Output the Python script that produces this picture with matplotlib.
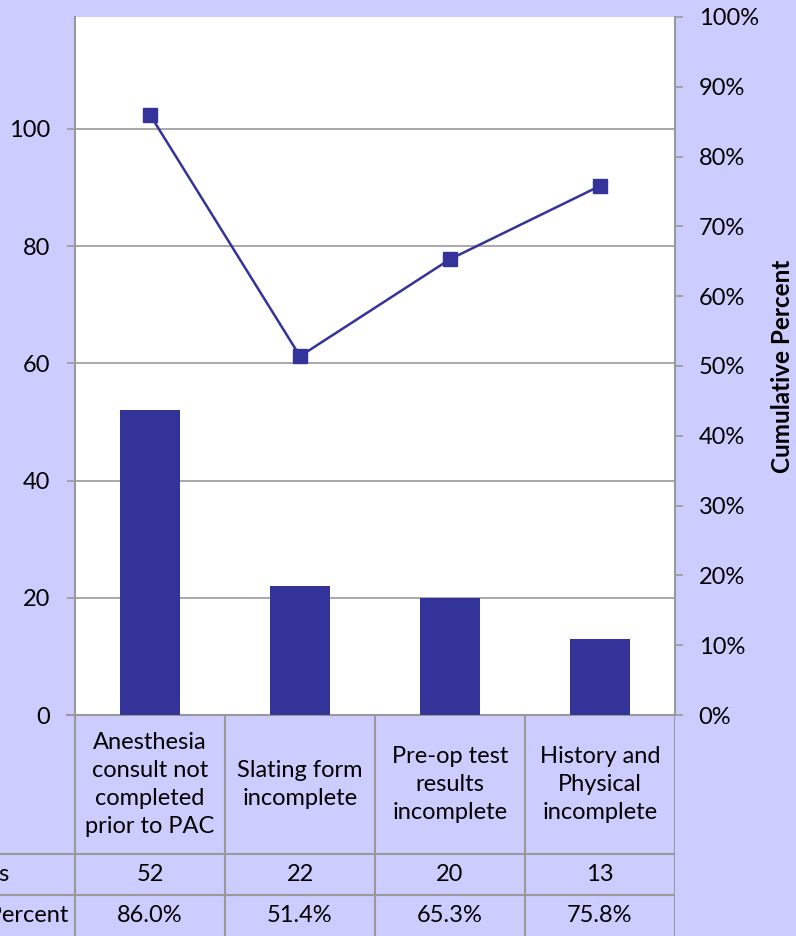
import matplotlib
matplotlib.use("Agg")
import matplotlib.pyplot as plt
import numpy as np

plt.rcParams['font.family'] = ['Lato', 'DejaVu Sans']

# data
categories = ["Anesthesia\nconsult not\ncompleted\nprior to PAC",
              "Slating form\nincomplete",
              "Pre-op test\nresults\nincomplete",
              "History and\nPhysical\nincomplete"]
counts = [52, 22, 20, 13]
cum_percent = [86.0, 51.4, 65.3, 75.8]
row_labels = ["Counts", "Cumulative Percent"]

BG = "#CCCCFF"
BAR = "#333399"
GRID = "#999999"
W, H = 796, 936
FS = 17

fig = plt.figure(figsize=(W / 100, H / 100), dpi=100, facecolor=BG)

# main chart area (pixel box: x 75..675, y 17..715)
ax = fig.add_axes([75 / W, (H - 715) / H, 600 / W, 698 / H])
ax.set_facecolor("white")
x = np.arange(len(counts))
ax.bar(x, counts, width=0.4, color=BAR, zorder=3)
ax.set_xlim(-0.5, len(counts) - 0.5)
ax.set_ylim(0, 119.1)
ax.set_yticks([0, 20, 40, 60, 80, 100])
ax.yaxis.grid(True, color=GRID, linewidth=1.2)
ax.set_axisbelow(True)
ax.set_xticks([])
for s in ["top", "right", "bottom"]:
    ax.spines[s].set_visible(False)
ax.spines["left"].set_color(GRID)
ax.spines["left"].set_linewidth(1.5)
ax.tick_params(axis="y", length=6, width=1.2, color=GRID, pad=12, labelsize=FS)

ax2 = ax.twinx()
ax2.plot(x, cum_percent, color=BAR, linewidth=1.8, marker="s", markersize=9.5, zorder=4)
ax2.set_ylim(0, 100)
ax2.set_yticks(np.arange(0, 101, 10))
ax2.set_yticklabels([f"{v}%" for v in range(0, 101, 10)])
for s in ["top", "left", "bottom"]:
    ax2.spines[s].set_visible(False)
ax2.spines["right"].set_color(GRID)
ax2.spines["right"].set_linewidth(1.5)
ax2.tick_params(axis="y", length=6, width=1.2, color=GRID, pad=11, labelsize=FS)
ax2.set_ylabel("Cumulative Percent", fontsize=17.5, fontweight="bold", labelpad=9)

# bottom line of the plot
ax.axhline(0, color=GRID, linewidth=1.5, clip_on=False, xmin=-0.013, xmax=1.0)

# data table below the chart, drawn in pixel coordinates
tab = fig.add_axes([0, 0, 675 / W, (H - 715) / H])
tab.set_xlim(0, 675)
tab.set_ylim(936, 715)
tab.axis("off")
tab.patch.set_alpha(0)
col_w = 150
x0 = 75
row_edges = [715, 854, 895, 936]
lw = 1.5
for i in range(len(categories) + 1):
    tab.plot([x0 + i * col_w] * 2, [715, 936], color=GRID, lw=lw)
for yy in row_edges[1:3]:
    tab.plot([0, 675], [yy, yy], color=GRID, lw=lw)
for i, cat in enumerate(categories):
    cx = x0 + col_w * (i + 0.5)
    tab.text(cx, (row_edges[0] + row_edges[1]) / 2, cat, ha="center", va="center",
             fontsize=FS, linespacing=1.4)
    tab.text(cx, (row_edges[1] + row_edges[2]) / 2, str(counts[i]),
             ha="center", va="center", fontsize=FS)
    tab.text(cx, (row_edges[2] + row_edges[3]) / 2, f"{cum_percent[i]:.1f}%",
             ha="center", va="center", fontsize=FS)
# row labels, partly outside the left edge as in the original
label_right = [10, 68]
for j, lab in enumerate(row_labels):
    tab.text(label_right[j], (row_edges[j + 1] + row_edges[j + 2]) / 2, lab,
             ha="right", va="center", fontsize=FS)

fig.savefig("out.png", dpi=100, facecolor=BG)
